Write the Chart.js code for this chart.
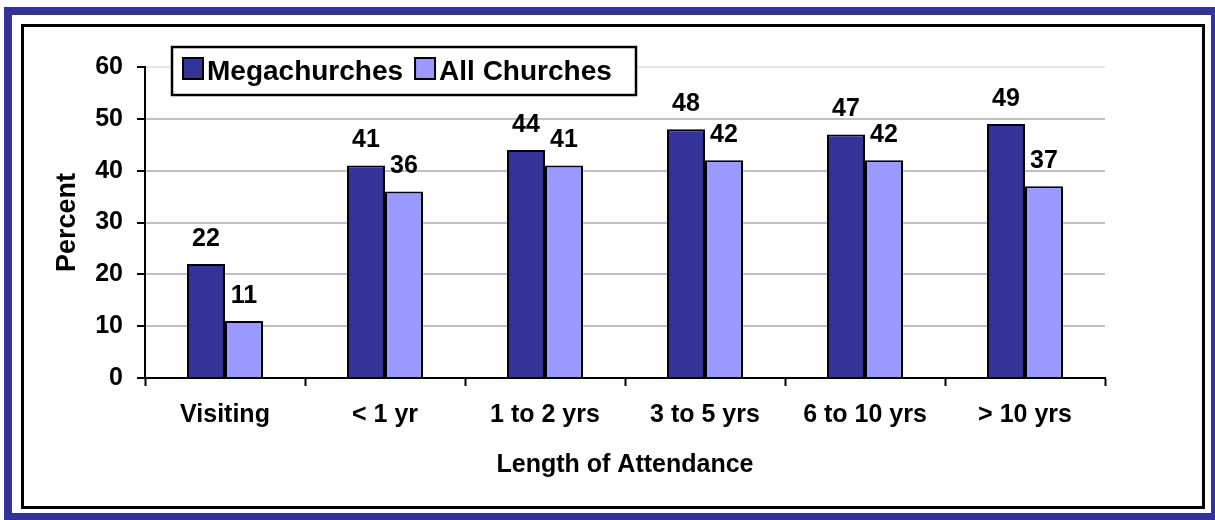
<!DOCTYPE html>
<html>
<head>
<meta charset="utf-8">
<script src="https://cdn.jsdelivr.net/npm/chart.js@4.4.1/dist/chart.umd.min.js"></script>
<style>
  html, body { margin: 0; padding: 0; background: #fff; overflow: hidden; }
  body { width: 1215px; height: 520px; position: relative; }
  .frame-blue {
    position: absolute; left: 4px; top: 7px; width: 1215px; height: 514px;
    border: 8px solid #333399; box-sizing: border-box;
  }
  .frame-black {
    position: absolute; left: 21px; top: 24px; width: 1184px; height: 485px;
    border: 3px solid #000; box-sizing: border-box;
  }
  canvas { position: absolute; left: 0; top: 0; }
</style>
</head>
<body>
<div class="frame-blue"></div>
<div class="frame-black"></div>
<canvas id="chart" width="1215" height="520"></canvas>
<script>
// Share of attenders, by how long they have attended
const categories = ['Visiting', '< 1 yr', '1 to 2 yrs', '3 to 5 yrs', '6 to 10 yrs', '> 10 yrs'];
const megachurches = [22, 41, 44, 48, 47, 49];
const allChurches = [11, 36, 41, 42, 42, 37];
const seriesNames = ['Megachurches', 'All Churches'];
const yTicks = [0, 10, 20, 30, 40, 50, 60];
const xTitle = 'Length of Attendance';
const yTitle = 'Percent';

const FONT = '"Liberation Sans", Arial, sans-serif';
const DARK = '#333399';
const LIGHT = '#9999FF';

// Value labels above each bar
const barValues = {
  id: 'barValues',
  afterDatasetsDraw(chart, args, opts) {
    const ctx = chart.ctx;
    ctx.save();
    ctx.font = 'bold 25px ' + FONT;
    ctx.fillStyle = '#000';
    ctx.textAlign = 'center';
    ctx.textBaseline = 'alphabetic';
    chart.data.datasets.forEach((ds, di) => {
      chart.getDatasetMeta(di).data.forEach((bar, i) => {
        ctx.fillText(String(ds.data[i]), bar.x, bar.y - opts.gap);
      });
    });
    ctx.restore();
  }
};

// Boxed legend sitting over the top of the plot
const boxLegend = {
  id: 'boxLegend',
  afterDraw(chart, args, opts) {
    const ctx = chart.ctx;
    ctx.save();
    ctx.fillStyle = '#fff';
    ctx.fillRect(opts.x, opts.y, opts.w, opts.h);
    ctx.lineWidth = 2.5;
    ctx.strokeStyle = '#000';
    ctx.strokeRect(opts.x, opts.y, opts.w, opts.h);
    ctx.font = 'bold 28px ' + FONT;
    ctx.textBaseline = 'alphabetic';
    ctx.textAlign = 'left';
    let x = opts.x + 11;
    chart.data.datasets.forEach((ds) => {
      ctx.fillStyle = ds.backgroundColor;
      ctx.fillRect(x, opts.y + 11, 20, 21);
      ctx.lineWidth = 2;
      ctx.strokeStyle = '#000';
      ctx.strokeRect(x, opts.y + 11, 20, 21);
      ctx.fillStyle = '#000';
      ctx.fillText(ds.label, x + 24, opts.y + 33);
      x += 24 + ctx.measureText(ds.label).width + 12;
    });
    ctx.restore();
  }
};

const tickFont = { family: FONT, size: 25, weight: 'bold' };

new Chart(document.getElementById('chart'), {
  type: 'bar',
  data: {
    labels: categories,
    datasets: [
      { label: seriesNames[0], data: megachurches, backgroundColor: DARK, borderColor: '#000', borderWidth: 2 },
      { label: seriesNames[1], data: allChurches, backgroundColor: LIGHT, borderColor: '#000', borderWidth: 2 }
    ]
  },
  options: {
    responsive: false,
    animation: false,
    devicePixelRatio: 1,
    layout: { padding: { left: 40, right: 110, top: 67, bottom: 37 } },
    datasets: { bar: { categoryPercentage: 0.475, barPercentage: 1.0 } },
    plugins: {
      legend: { display: false },
      tooltip: { enabled: false },
      barValues: { gap: 18 },
      boxLegend: { x: 172, y: 47, w: 464, h: 48 }
    },
    scales: {
      x: {
        grid: { offset: true, drawOnChartArea: false, drawTicks: true, tickLength: 8, tickColor: '#000', tickWidth: 2 },
        border: { color: '#000', width: 2 },
        ticks: { font: { family: FONT, size: 25, weight: 'bold' }, color: '#000', padding: 14, maxRotation: 0, autoSkip: false },
        title: { display: true, text: xTitle, color: '#000', font: { family: FONT, size: 25, weight: 'bold' }, padding: { top: 0, bottom: 3 } },
        afterFit(s) { s.height = 105; }
      },
      y: {
        min: yTicks[0],
        max: yTicks[yTicks.length - 1],
        afterBuildTicks(s) { s.ticks = yTicks.map(v => ({ value: v })); },
        grid: {
          color: (c) => c.tick && c.tick.value === 0 ? 'rgba(0,0,0,0)' : (c.tick && c.tick.value === 60 ? '#e4e4e4' : '#c0c0c0'),
          lineWidth: 2, drawTicks: true, tickLength: 8, tickColor: '#000', tickWidth: 2
        },
        border: { color: '#000', width: 2 },
        ticks: { font: tickFont, color: '#000', padding: 14 },
        title: { display: true, text: yTitle, color: '#000', font: { family: FONT, size: 27, weight: 'bold' }, padding: { top: 11, bottom: 0 } },
        afterFit(s) { s.width = 105; }
      }
    }
  },
  plugins: [barValues, boxLegend]
});
</script>
</body>
</html>
